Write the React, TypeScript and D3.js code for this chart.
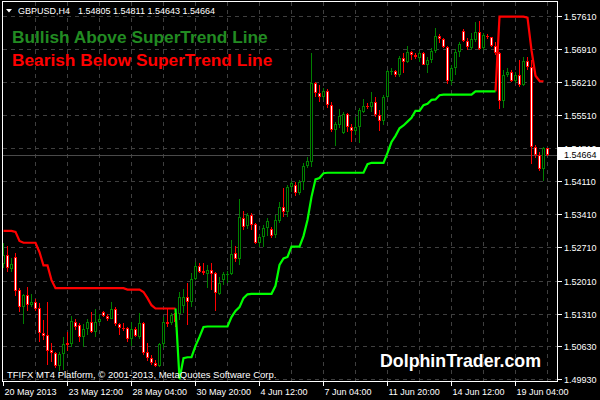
import React from "react";
import * as d3 from "d3";

// ---- data ----
const timeLabels = ["20 May 2013", "23 May 12:00", "28 May 04:00", "30 May 20:00", "4 Jun 12:00", "7 Jun 04:00", "11 Jun 20:00", "14 Jun 12:00", "19 Jun 04:00"];
const timeLabelBars = [0, 16, 32, 48, 64, 80, 96, 112, 128];
const priceTickLabels = ["1.57610", "1.56910", "1.56210", "1.55510", "1.54810", "1.54110", "1.53410", "1.52710", "1.52010", "1.51310", "1.50630", "1.49930"];

const open = [
  1.5236, 1.5255, 1.5226, 1.5251, 1.5181, 1.5145, 1.5171, 1.5149, 1.5156, 1.5143,
  1.5090, 1.5086, 1.5054, 1.5048, 1.5020, 1.5046, 1.5069, 1.5067, 1.5113, 1.5107,
  1.5082, 1.5099, 1.5113, 1.5092, 1.5113, 1.5135, 1.5126, 1.5120, 1.5141, 1.5109,
  1.5101, 1.5101, 1.5078, 1.5099, 1.5082, 1.5111, 1.5050, 1.5037, 1.5027, 1.5020,
  1.5067, 1.5113, 1.5111, 1.5133, 1.5130, 1.5147, 1.5166, 1.5156, 1.5204, 1.5232,
  1.5221, 1.5215, 1.5223, 1.5217, 1.5173, 1.5202, 1.5213, 1.5215, 1.5259, 1.5247,
  1.5333, 1.5316, 1.5340, 1.5321, 1.5280, 1.5293, 1.5312, 1.5310, 1.5297, 1.5327,
  1.5357, 1.5346, 1.5399, 1.5403, 1.5386, 1.5409, 1.5443, 1.5452, 1.5619, 1.5598,
  1.5589, 1.5602, 1.5572, 1.5519, 1.5530, 1.5513, 1.5553, 1.5526, 1.5517, 1.5526,
  1.5557, 1.5570, 1.5568, 1.5579, 1.5551, 1.5538, 1.5589, 1.5642, 1.5644, 1.5636,
  1.5672, 1.5663, 1.5684, 1.5678, 1.5672, 1.5682, 1.5657, 1.5667, 1.5686, 1.5718,
  1.5712, 1.5695, 1.5623, 1.5650, 1.5684, 1.5729, 1.5708, 1.5693, 1.5710, 1.5727,
  1.5693, 1.5718, 1.5715, 1.5697, 1.5682, 1.5581, 1.5636, 1.5642, 1.5623, 1.5636,
  1.5615, 1.5665, 1.5653, 1.5483, 1.5467, 1.5437, 1.54805,
];
const high = [
  1.5280, 1.5274, 1.5249, 1.5259, 1.5185, 1.5173, 1.5187, 1.5173, 1.5162, 1.5154,
  1.5118, 1.5156, 1.5069, 1.5050, 1.5050, 1.5082, 1.5092, 1.5126, 1.5120, 1.5111,
  1.5109, 1.5120, 1.5135, 1.5141, 1.5130, 1.5137, 1.5130, 1.5156, 1.5145, 1.5111,
  1.5111, 1.5103, 1.5113, 1.5103, 1.5133, 1.5113, 1.5069, 1.5044, 1.5033, 1.5069,
  1.5124, 1.5141, 1.5133, 1.5139, 1.5177, 1.5183, 1.5196, 1.5217, 1.5240, 1.5238,
  1.5238, 1.5234, 1.5238, 1.5219, 1.5209, 1.5219, 1.5221, 1.5287, 1.5274, 1.5374,
  1.5348, 1.5344, 1.5344, 1.5323, 1.5297, 1.5319, 1.5333, 1.5314, 1.5340, 1.5367,
  1.5397, 1.5403, 1.5412, 1.5409, 1.5414, 1.5450, 1.5462, 1.5682, 1.5621, 1.5615,
  1.5608, 1.5606, 1.5579, 1.5536, 1.5564, 1.5557, 1.5555, 1.5532, 1.5547, 1.5566,
  1.5585, 1.5576, 1.5600, 1.5589, 1.5562, 1.5593, 1.5646, 1.5650, 1.5646, 1.5676,
  1.5682, 1.5697, 1.5686, 1.5682, 1.5686, 1.5684, 1.5674, 1.5693, 1.5735, 1.5722,
  1.5714, 1.5696, 1.5657, 1.5691, 1.5705, 1.5733, 1.5714, 1.5724, 1.5748, 1.5750,
  1.5724, 1.5722, 1.5716, 1.5705, 1.5684, 1.5646, 1.5650, 1.5646, 1.5642, 1.5667,
  1.5674, 1.5674, 1.5667, 1.5488, 1.5473, 1.5483, 1.54811,
];
const low = [
  1.5228, 1.5219, 1.5219, 1.5168, 1.5135, 1.5109, 1.5137, 1.5145, 1.5137, 1.5071,
  1.5075, 1.5023, 1.5029, 1.5016, 1.5010, 1.5012, 1.5052, 1.5061, 1.5097, 1.5071,
  1.5061, 1.5086, 1.5090, 1.5082, 1.5111, 1.5124, 1.5116, 1.5119, 1.5105, 1.5086,
  1.5094, 1.5071, 1.5063, 1.5082, 1.5078, 1.5044, 1.5031, 1.5023, 1.5018, 1.5018,
  1.5059, 1.5103, 1.5107, 1.5103, 1.5118, 1.5133, 1.5107, 1.5145, 1.5202, 1.5217,
  1.5213, 1.5185, 1.5181, 1.5137, 1.5171, 1.5192, 1.5196, 1.5213, 1.5240, 1.5234,
  1.5308, 1.5310, 1.5308, 1.5278, 1.5272, 1.5272, 1.5295, 1.5291, 1.5291, 1.5323,
  1.5335, 1.5335, 1.5388, 1.5380, 1.5382, 1.5393, 1.5439, 1.5441, 1.5589, 1.5579,
  1.5583, 1.5566, 1.5515, 1.5486, 1.5524, 1.5511, 1.5515, 1.5494, 1.5509, 1.5492,
  1.5555, 1.5564, 1.5557, 1.5547, 1.5517, 1.5530, 1.5587, 1.5636, 1.5631, 1.5631,
  1.5640, 1.5661, 1.5667, 1.5669, 1.5663, 1.5656, 1.5640, 1.5661, 1.5682, 1.5703,
  1.5693, 1.5617, 1.5615, 1.5636, 1.5674, 1.5705, 1.5688, 1.5688, 1.5705, 1.5688,
  1.5688, 1.5712, 1.5695, 1.5678, 1.5564, 1.5566, 1.5631, 1.5621, 1.5619, 1.5610,
  1.5612, 1.5646, 1.5447, 1.5460, 1.5433, 1.5412, 1.54643,
];
const close = [
  1.5255, 1.5228, 1.5237, 1.5179, 1.5145, 1.5171, 1.5149, 1.5156, 1.5141, 1.5090,
  1.5084, 1.5052, 1.5048, 1.5020, 1.5046, 1.5067, 1.5065, 1.5116, 1.5103, 1.5082,
  1.5099, 1.5113, 1.5092, 1.5113, 1.5120, 1.5126, 1.5120, 1.5141, 1.5109, 1.5101,
  1.5099, 1.5078, 1.5099, 1.5084, 1.5111, 1.5048, 1.5037, 1.5027, 1.5020, 1.5067,
  1.5113, 1.5109, 1.5128, 1.5113, 1.5166, 1.5166, 1.5156, 1.5204, 1.5232, 1.5219,
  1.5217, 1.5223, 1.5215, 1.5175, 1.5196, 1.5215, 1.5215, 1.5257, 1.5247, 1.5335,
  1.5314, 1.5340, 1.5319, 1.5280, 1.5293, 1.5312, 1.5327, 1.5295, 1.5329, 1.5357,
  1.5346, 1.5399, 1.5407, 1.5386, 1.5409, 1.5443, 1.5454, 1.5619, 1.5598, 1.5589,
  1.5602, 1.5572, 1.5519, 1.5532, 1.5549, 1.5553, 1.5526, 1.5517, 1.5526, 1.5562,
  1.5570, 1.5568, 1.5579, 1.5551, 1.5538, 1.5589, 1.5644, 1.5644, 1.5636, 1.5672,
  1.5663, 1.5684, 1.5678, 1.5674, 1.5682, 1.5657, 1.5667, 1.5686, 1.5718, 1.5712,
  1.5695, 1.5623, 1.5650, 1.5684, 1.5701, 1.5708, 1.5695, 1.5712, 1.5727, 1.5691,
  1.5720, 1.5716, 1.5697, 1.5682, 1.5581, 1.5636, 1.5642, 1.5623, 1.5636, 1.5615,
  1.5665, 1.5653, 1.5483, 1.5467, 1.5437, 1.5481, 1.54664,
];

// SuperTrend segments (first bar index, values)
const superTrendRed1Start = 0;
const superTrendRed1 = [
  1.5306, 1.5306, 1.5306, 1.5304, 1.5285, 1.5281, 1.5281, 1.5281, 1.5281, 1.5261,
  1.5233, 1.5233, 1.5202, 1.5185, 1.5185, 1.5185, 1.5185, 1.5185, 1.5185, 1.5185,
  1.5185, 1.5185, 1.5185, 1.5185, 1.5185, 1.5185, 1.5185, 1.5185, 1.5185, 1.5185,
  1.5185, 1.5182, 1.5182, 1.5182, 1.5182, 1.5177, 1.5164, 1.5149, 1.5142, 1.5142,
  1.5142, 1.5142, 1.5142, 1.5142,
];
const superTrendGreenStart = 43;
const superTrendGreen = [
  1.5142, 1.4993, 1.5037, 1.5039, 1.5039, 1.5063, 1.5082, 1.5103, 1.5104, 1.5104,
  1.5104, 1.5104, 1.5104, 1.5104, 1.5124, 1.5137, 1.5145, 1.5164, 1.5172, 1.5173,
  1.5173, 1.5173, 1.5173, 1.5173, 1.5173, 1.5190, 1.5234, 1.5248, 1.5251, 1.5273,
  1.5273, 1.5273, 1.5295, 1.5329, 1.5378, 1.5415, 1.5418, 1.5428, 1.5429, 1.5429,
  1.5429, 1.5429, 1.5429, 1.5429, 1.5429, 1.5429, 1.5429, 1.5429, 1.5447, 1.5450,
  1.5450, 1.5450, 1.5450, 1.5471, 1.5494, 1.5507, 1.5523, 1.5529, 1.5537, 1.5545,
  1.5560, 1.5560, 1.5572, 1.5575, 1.5583, 1.5584, 1.5593, 1.5594, 1.5594, 1.5594,
  1.5594, 1.5594, 1.5594, 1.5594, 1.5594, 1.5601, 1.5601, 1.5601, 1.5601, 1.5601,
  1.5601,
];
const superTrendRed2Start = 123;
const superTrendRed2 = [
  1.5601, 1.5759, 1.5759, 1.5759, 1.5759, 1.5759, 1.5759, 1.5759, 1.5757, 1.5688,
  1.5634, 1.5623, 1.5622,
];

const symbolTitle = "GBPUSD,H4";
const lastQuote = "1.54805 1.54811 1.54643 1.54664";
const legendBull = "Bullish Above SuperTrend Line";
const legendBear = "Bearish Below SuperTrend Line";
const footer = "TFIFX MT4 Platform, \u00A9 2001-2013, MetaQuotes Software Corp.";
const watermark = "DolphinTrader.com";

const FONT = "'Liberation Sans', Arial, sans-serif";

export default function App() {
  const W = 600, H = 400;
  const plotL = 2.5, plotR = 557.5, plotT = 1.5, plotB = 381.5;
  const n = close.length;
  const x = d3.scaleLinear().domain([0, 136]).range([3.5, 547.5]);
  const y = d3.scaleLinear().domain([1.4993, 1.5761]).range([379, 15.7]);

  const line = d3
    .line<[number, number]>()
    .x((d) => x(d[0]))
    .y((d) => y(d[1]));
  const seg = (start: number, vals: number[]) => line(vals.map((v, k) => [start + k, v] as [number, number])) || "";

  const gridX = d3.range(1, 18).map((k) => x(k * 8));
  const lastClose = close[n - 1];
  const bidY = Math.round(y(lastClose)) + 0.5;

  const candles = d3.range(n).map((i) => {
    const o = open[i], h = high[i], l = low[i], c = close[i];
    const bull = c >= o;
    const cx = Math.round(x(i) - 0.5) + 0.5;
    const yH = Math.round(y(h));
    const yL = Math.round(y(l));
    const yT = Math.round(y(Math.max(o, c)));
    const yB = Math.round(y(Math.min(o, c)));
    const col = bull ? "#008000" : "#ff0000";
    return (
      <g key={i}>
        <line x1={cx} x2={cx} y1={yH} y2={Math.max(yL, yH + 1)} stroke={col} strokeWidth={1} />
        {yB - yT < 2 ? (
          <line x1={cx - 1.5} x2={cx + 1.5} y1={yT + 0.5} y2={yT + 0.5} stroke={col} strokeWidth={1} />
        ) : (
          <rect x={cx - 1} y={yT + 0.5} width={2} height={yB - yT - 1} fill={bull ? "#000000" : "#ffffff"} stroke={col} strokeWidth={1} />
        )}
      </g>
    );
  });

  return (
    <svg width={W} height={H} style={{ position: "fixed", left: 0, top: 0, display: "block" }} fontFamily={FONT}>
      <rect x={0} y={0} width={W} height={H} fill="#000000" />
      {/* grid */}
      <g stroke="#3f3f3f" strokeWidth={1} strokeDasharray="4,4" shapeRendering="crispEdges">
        {priceTickLabels.map((t) => {
          const yy = Math.round(y(parseFloat(t))) + 0.5;
          return <line key={t} x1={plotL} x2={plotR} y1={yy} y2={yy} />;
        })}
        {gridX.map((gx, k) => (
          <line key={k} x1={gx} x2={gx} y1={plotT} y2={plotB} />
        ))}
      </g>
      {/* bid line */}
      <line x1={plotL} x2={plotR} y1={bidY} y2={bidY} stroke="#4a4a4a" strokeWidth={1} shapeRendering="crispEdges" />
      {/* candles */}
      <g shapeRendering="crispEdges">{candles}</g>
      {/* supertrend */}
      <path d={seg(superTrendRed1Start, superTrendRed1)} fill="none" stroke="#ff0000" strokeWidth={2.2} />
      <path d={seg(superTrendRed2Start, superTrendRed2)} fill="none" stroke="#ff0000" strokeWidth={2.2} />
      <path d={seg(superTrendGreenStart, superTrendGreen)} fill="none" stroke="#00ff00" strokeWidth={2.2} />
      {/* frame */}
      <rect x={plotL} y={plotT} width={plotR - plotL} height={plotB - plotT} fill="none" stroke="#ffffff" strokeWidth={1} shapeRendering="crispEdges" />
      {/* price axis */}
      <g fontSize={9} fill="#ffffff">
        {priceTickLabels.map((t) => {
          const yy = Math.round(y(parseFloat(t))) + 0.5;
          return (
            <g key={t}>
              <line x1={plotR} x2={plotR + 4} y1={yy} y2={yy} stroke="#ffffff" shapeRendering="crispEdges" />
              <text x={564} y={yy + 3.5}>{t}</text>
            </g>
          );
        })}
      </g>
      {/* current price label */}
      <rect x={558} y={bidY - 8.5} width={42} height={13} fill="#ffffff" />
      <text x={564} y={bidY + 2.5} fontSize={9} fill="#000000">{lastClose.toFixed(5)}</text>
      {/* time axis */}
      <g fontSize={9} fill="#ffffff">
        {timeLabels.map((t, k) => {
          const tx = x(timeLabelBars[k]);
          return (
            <g key={t}>
              <line x1={tx} x2={tx} y1={plotB} y2={plotB + 4} stroke="#ffffff" shapeRendering="crispEdges" />
              <text x={tx + 1} y={394.5}>{t}</text>
            </g>
          );
        })}
      </g>
      {/* header */}
      <polygon points="6,9 12,9 9,12.5" fill="#ffffff" />
      <text x={18} y={14} fontSize={9} fill="#ffffff">{symbolTitle}</text>
      <text x={78} y={14} fontSize={9} fill="#ffffff">{lastQuote}</text>
      {/* legend */}
      <text x={12} y={43} fontSize={17.3} fontWeight="bold" fill="#228b22">{legendBull}</text>
      <text x={12} y={66} fontSize={17.3} fontWeight="bold" fill="#ff0000">{legendBear}</text>
      {/* footer + watermark */}
      <text x={7} y={378} fontSize={9.5} fill="#ffffff">{footer}</text>
      <text x={380} y={366.5} fontSize={17.8} fontWeight="bold" fill="#ffffff">{watermark}</text>
    </svg>
  );
}
